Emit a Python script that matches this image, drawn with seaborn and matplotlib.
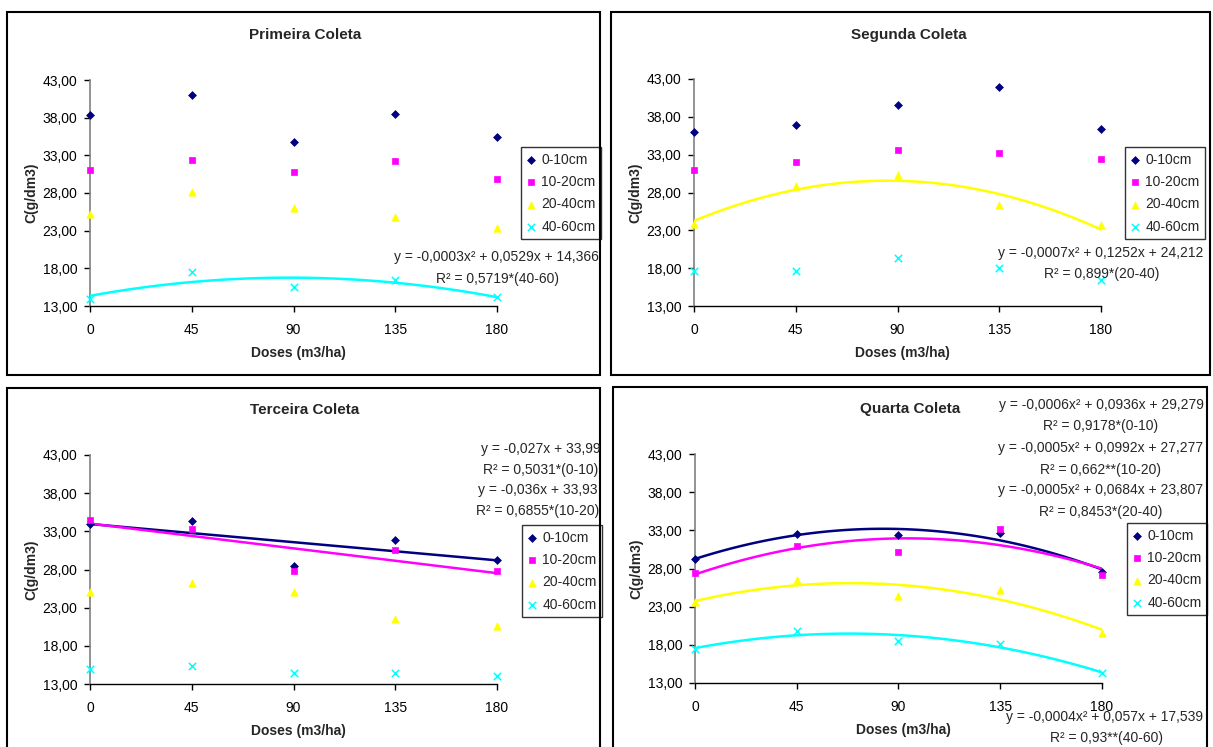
import warnings
import matplotlib
matplotlib.use("Agg")
import matplotlib.pyplot as plt
from matplotlib.patches import Rectangle
import seaborn as sns

warnings.filterwarnings("ignore")

# ---- data ----
doses = [0, 45, 90, 135, 180]
x_tick_labels = ["0", "45", "90", "135", "180"]
y_ticks = [13, 18, 23, 28, 33, 38, 43]
y_tick_labels = ["13,00", "18,00", "23,00", "28,00", "33,00", "38,00", "43,00"]
depths = ["0-10cm", "10-20cm", "20-40cm", "40-60cm"]

# Primeira Coleta
c1_0_10 = [38.35, 40.95, 34.8, 38.5, 35.5]
c1_10_20 = [31.0, 32.4, 30.8, 32.3, 29.9]
c1_20_40 = [25.2, 28.1, 26.05, 24.8, 23.3]
c1_40_60 = [13.9, 17.5, 15.5, 16.45, 14.2]
# Segunda Coleta
c2_0_10 = [36.0, 36.9, 39.6, 41.9, 36.4]
c2_10_20 = [31.0, 32.0, 33.65, 33.25, 32.4]
c2_20_40 = [23.9, 28.8, 30.3, 26.35, 23.7]
c2_40_60 = [17.6, 17.6, 19.4, 18.0, 16.5]
# Terceira Coleta
c3_0_10 = [33.9, 34.4, 28.5, 31.9, 29.2]
c3_10_20 = [34.5, 33.3, 27.75, 30.55, 27.75]
c3_20_40 = [25.1, 26.2, 25.0, 21.5, 20.6]
c3_40_60 = [15.0, 15.3, 14.4, 14.5, 14.1]
# Quarta Coleta
c4_0_10 = [29.3, 32.55, 32.35, 32.6, 27.55]
c4_10_20 = [27.4, 30.9, 30.15, 33.2, 27.2]
c4_20_40 = [23.65, 26.45, 24.45, 25.15, 19.6]
c4_40_60 = [17.4, 19.85, 18.5, 18.1, 14.3]

titles = ["Primeira Coleta", "Segunda Coleta", "Terceira Coleta", "Quarta Coleta"]
series = [
    [c1_0_10, c1_10_20, c1_20_40, c1_40_60],
    [c2_0_10, c2_10_20, c2_20_40, c2_40_60],
    [c3_0_10, c3_10_20, c3_20_40, c3_40_60],
    [c4_0_10, c4_10_20, c4_20_40, c4_40_60],
]
# which depths get a trendline, and its polynomial order
trends = [
    {3: 2},
    {2: 2},
    {0: 1, 1: 1},
    {0: 2, 1: 2, 2: 2, 3: 2},
]
equations = [
    ["y = -0,0003x² + 0,0529x + 14,366", "R² = 0,5719*(40-60)"],
    ["y = -0,0007x² + 0,1252x + 24,212", "R² = 0,899*(20-40)"],
    ["y = -0,027x + 33,99", "R² = 0,5031*(0-10)",
     "y = -0,036x + 33,93", "R² = 0,6855*(10-20)"],
    ["y = -0,0006x² + 0,0936x + 29,279", "R² = 0,9178*(0-10)",
     "y = -0,0005x² + 0,0992x + 27,277", "R² = 0,662**(10-20)",
     "y = -0,0005x² + 0,0684x + 23,807", "R² = 0,8453*(20-40)",
     "y = -0,0004x² + 0,057x + 17,539", "R² = 0,93**(40-60)"],
]

# ---- style ----
colors = ["#000080", "#FF00FF", "#FFFF00", "#00FFFF"]
markers = ["D", "s", "^", "x"]
sizes = [16, 20, 28, 28]

W, H = 1213, 747


def fx(x):
    return x / W


def fy(y):
    return 1 - y / H


# pixel layout of each panel
boxes = [(7, 12, 600, 375), (611, 12, 1210, 375), (7, 388, 600, 752), (613, 387, 1207, 752)]
plot_areas = [(90, 80, 497, 306), (694, 79, 1101, 306), (90, 455, 497, 684), (695, 454, 1102, 683)]
title_pos = [(305, 35), (909, 35), (305, 410), (910, 409)]
legend_pos = [(521, 147), (1125, 147), (522, 525), (1127, 523)]
eq_pos = [
    [(496, 257), (497, 279)],
    [(1101, 253), (1102, 274)],
    [(541, 449), (541, 470), (538, 490), (538, 511)],
    [(1101, 405), (1101, 426), (1101, 448), (1101, 470),
     (1101, 490), (1101, 512), (1105, 717), (1106, 738)],
]

sns.set_style("ticks")
plt.rcParams["font.family"] = ["Liberation Sans", "DejaVu Sans"]

fig = plt.figure(figsize=(12.13, 7.47), dpi=100)

for i in range(4):
    bx0, by0, bx1, by1 = boxes[i]
    fig.patches.append(Rectangle((fx(bx0), fy(by1)), (bx1 - bx0) / W, (by1 - by0) / H,
                                 transform=fig.transFigure, fill=False, lw=1.5,
                                 ec="black"))

    x0, y0, x1, y1 = plot_areas[i]
    ax = fig.add_axes([fx(x0), fy(y1), (x1 - x0) / W, (y1 - y0) / H])

    for j in range(4):
        kw = dict(marker=markers[j], color=colors[j], s=sizes[j], label=depths[j],
                  ax=ax, clip_on=False, zorder=4)
        if markers[j] == "x":
            kw["linewidth"] = 1.1
        else:
            kw["edgecolor"] = colors[j]
            kw["linewidth"] = 0.5
        sns.scatterplot(x=doses, y=series[i][j], **kw)

    for j, order in trends[i].items():
        sns.regplot(x=doses, y=series[i][j], order=order, ci=None, scatter=False,
                    color=colors[j], line_kws={"lw": 1.8, "zorder": 3}, ax=ax)

    ax.set_xlim(0, 180)
    ax.set_ylim(13, 43)
    ax.set_xticks(doses)
    ax.set_xticklabels(x_tick_labels)
    ax.set_yticks(y_ticks)
    ax.set_yticklabels(y_tick_labels)
    ax.set_xlabel("")
    ax.set_ylabel("")
    sns.despine(ax=ax)
    ax.spines["left"].set_color("#808080")
    ax.spines["left"].set_linewidth(1.2)
    ax.spines["bottom"].set_color("black")
    ax.spines["bottom"].set_linewidth(1.0)
    ax.tick_params(axis="x", direction="out", length=4, width=1, labelsize=10,
                   pad=8.5, colors="black")
    ax.tick_params(axis="y", direction="out", length=4, width=1, labelsize=10,
                   pad=5, colors="black")

    lx, ly = legend_pos[i]
    leg = ax.legend(loc="upper left", bbox_to_anchor=(fx(lx), fy(ly)),
                    bbox_transform=fig.transFigure, frameon=True, fancybox=False,
                    edgecolor="black", fontsize=10, borderpad=0.4,
                    labelspacing=0.6, handlelength=0.7, handletextpad=0.35,
                    borderaxespad=0)
    leg.get_frame().set_linewidth(1.0)

    tx, ty = title_pos[i]
    fig.text(fx(tx), fy(ty), titles[i], ha="center", va="center",
             fontsize=11, fontweight="bold")
    fig.text(fx(x0 - 59), fy((y0 + y1) / 2), "C(g/dm3)", rotation=90,
             ha="center", va="center", fontsize=10, fontweight="bold")
    fig.text(fx((x0 + x1) / 2 + 5), fy(y1 + 47), "Doses (m3/ha)", ha="center",
             va="center", fontsize=10, fontweight="bold")

    for txt, (ex, ey) in zip(equations[i], eq_pos[i]):
        fig.text(fx(ex), fy(ey), txt, ha="center", va="center", fontsize=10)

fig.savefig("out.png", dpi=100, facecolor="white")
